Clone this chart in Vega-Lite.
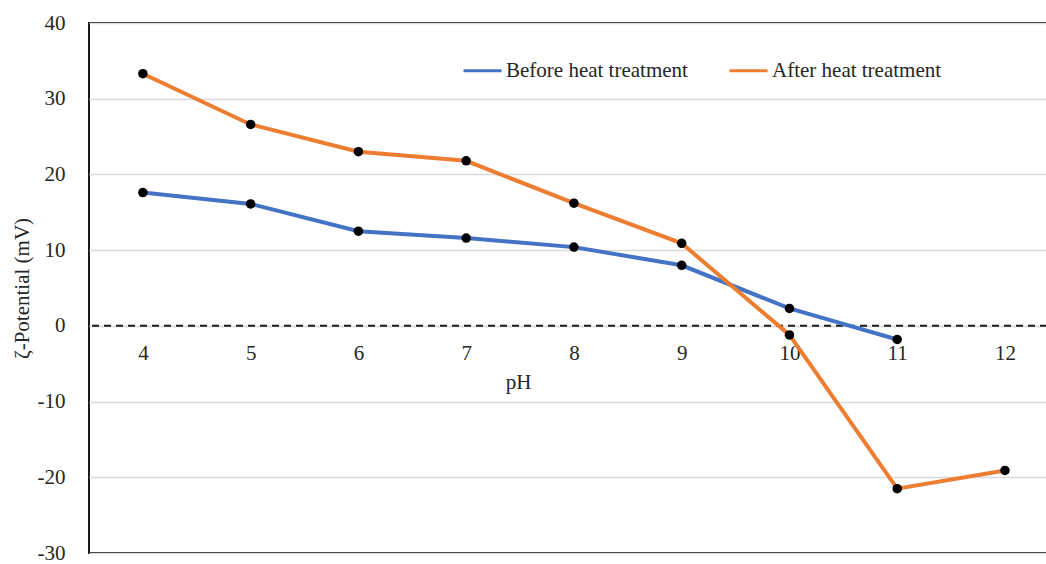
{
  "$schema": "https://vega.github.io/schema/vega-lite/v6.json",
  "autosize": {"type": "none"},
  "padding": {"left": 89, "top": 23, "right": 0, "bottom": 11},
  "width": 958,
  "height": 530,
  "background": "white",
  "config": {
    "font": "Liberation Serif",
    "view": {"stroke": "#1a1a1a", "strokeWidth": 2},
    "axis": {"labelFont": "Liberation Serif", "titleFont": "Liberation Serif", "labelColor": "#262626", "titleColor": "#262626", "titleFontWeight": "normal"}
  },
  "datasets": {
    "zeta": [
      {"pH": 4, "series": "Before heat treatment", "zeta": 17.6},
      {"pH": 5, "series": "Before heat treatment", "zeta": 16.1},
      {"pH": 6, "series": "Before heat treatment", "zeta": 12.5},
      {"pH": 7, "series": "Before heat treatment", "zeta": 11.6},
      {"pH": 8, "series": "Before heat treatment", "zeta": 10.4},
      {"pH": 9, "series": "Before heat treatment", "zeta": 8.0},
      {"pH": 10, "series": "Before heat treatment", "zeta": 2.3},
      {"pH": 11, "series": "Before heat treatment", "zeta": -1.8},
      {"pH": 4, "series": "After heat treatment", "zeta": 33.3},
      {"pH": 5, "series": "After heat treatment", "zeta": 26.6},
      {"pH": 6, "series": "After heat treatment", "zeta": 23.0},
      {"pH": 7, "series": "After heat treatment", "zeta": 21.8},
      {"pH": 8, "series": "After heat treatment", "zeta": 16.2},
      {"pH": 9, "series": "After heat treatment", "zeta": 10.9},
      {"pH": 10, "series": "After heat treatment", "zeta": -1.2},
      {"pH": 11, "series": "After heat treatment", "zeta": -21.5},
      {"pH": 12, "series": "After heat treatment", "zeta": -19.1}
    ]
  },
  "layer": [
    {
      "data": {"values": [{"zero": 0}]},
      "mark": {"type": "rule", "color": "#1a1a1a", "strokeWidth": 2, "strokeDash": [7, 5]},
      "encoding": {
        "y": {"field": "zero", "type": "quantitative", "scale": {"domain": [-30, 40]}}
      }
    },
    {
      "data": {"name": "zeta"},
      "mark": {"type": "line", "strokeWidth": 4},
      "encoding": {
        "x": {
          "field": "pH", "type": "quantitative",
          "scale": {"domain": [3.5, 12.39], "nice": false, "zero": false},
          "axis": {
            "values": [4, 5, 6, 7, 8, 9, 10, 11, 12], "format": "d",
            "offset": -227, "domain": false, "ticks": false, "grid": false,
            "labelFontSize": 21, "labelPadding": 16,
            "title": "pH", "titleFontSize": 21, "titleX": 429, "titleY": 56,
            "titleBaseline": "middle", "titleAlign": "center"
          }
        },
        "y": {
          "field": "zeta", "type": "quantitative",
          "scale": {"domain": [-30, 40], "nice": false},
          "axis": {
            "values": [-30, -20, -10, 0, 10, 20, 30, 40], "format": "d",
            "labelExpr": "replace(datum.label, '−', '-')",
            "domain": false, "ticks": false, "labelPadding": 24, "labelFontSize": 21,
            "gridColor": "#d9d9d9", "gridWidth": 1.5,
            "title": "ζ-Potential (mV)", "titleFontSize": 21,
            "titleX": -67, "titleY": 265, "titleBaseline": "middle", "titleAlign": "center"
          }
        },
        "color": {
          "field": "series", "type": "nominal",
          "scale": {"domain": ["Before heat treatment", "After heat treatment"], "range": ["#4472C4", "#ED7D31"]},
          "legend": {
            "title": null, "orient": "none", "direction": "horizontal",
            "legendX": 373, "legendY": 27,
            "symbolType": "stroke", "symbolSize": 1444, "symbolStrokeWidth": 3,
            "labelFont": "Liberation Serif", "labelFontSize": 21, "labelColor": "#262626",
            "labelOffset": 3, "columnPadding": 35, "labelLimit": 400
          }
        }
      }
    },
    {
      "data": {"name": "zeta"},
      "mark": {"type": "point", "filled": true, "color": "#000000", "opacity": 1, "size": 90},
      "encoding": {
        "x": {"field": "pH", "type": "quantitative"},
        "y": {"field": "zeta", "type": "quantitative"}
      }
    }
  ]
}
